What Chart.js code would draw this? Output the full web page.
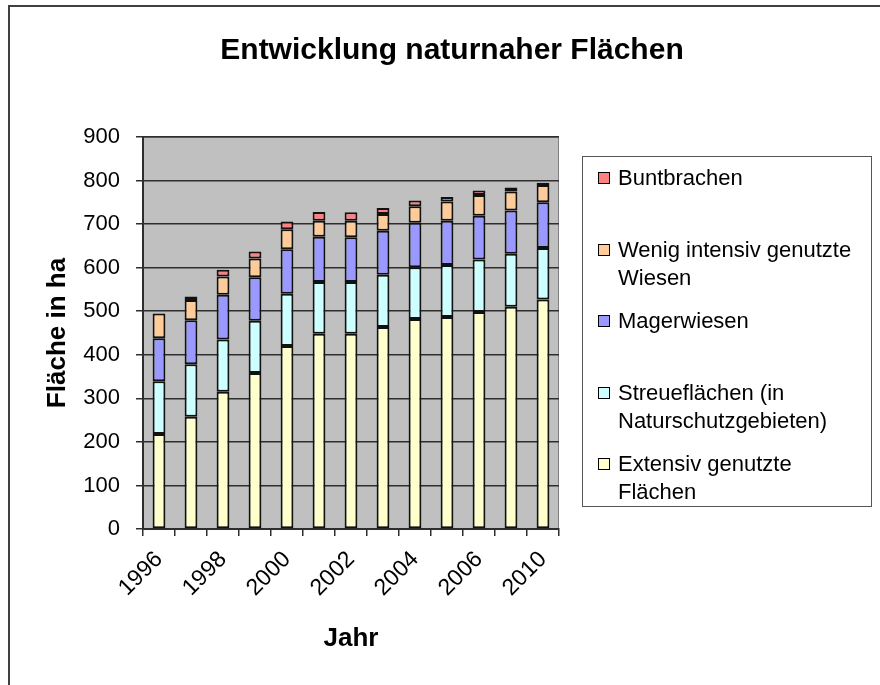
<!DOCTYPE html>
<html lang="de">
<head>
<meta charset="utf-8">
<title>Entwicklung naturnaher Flächen</title>
<script src="https://cdn.jsdelivr.net/npm/chart.js@4/dist/chart.umd.min.js"></script>
<style>
    html, body { margin: 0; padding: 0; background: #fff; overflow: hidden; }
    body { width: 880px; height: 685px; position: relative; font-family: 'Liberation Sans', Arial, sans-serif; }
    #frame {
        position: absolute; left: 8px; top: 5px; width: 900px; height: 700px;
        border-top: 2px solid #404040; border-left: 2px solid #404040;
    }
    #chartWrap { position: absolute; left: 0; top: 0; width: 880px; height: 685px; }
    #legend {
        position: absolute; left: 582px; top: 156px; width: 290px; height: 351px;
        border: 1px solid #555; box-sizing: border-box; padding-top: 7px; overflow: hidden;
    }
    .legend-item { display: flex; align-items: flex-start; height: 71.5px; padding-left: 15px; }
    .legend-box { width: 10px; height: 10px; border: 1px solid #000; margin-top: 8px; margin-right: 8px; flex: none; }
    .legend-text { font-size: 22px; line-height: 28px; color: #000; width: 248px; }
</style>
</head>
<body>
<div id="frame"></div>
<div id="chartWrap"><canvas id="chart" width="880" height="685"></canvas></div>
<div id="legend"></div>

<script>
// ===================================
// DATA (ha)
// ===================================
const years = ['1996', '1997', '1998', '1999', '2000', '2001', '2002', '2003', '2004', '2005', '2006', '2008', '2010'];

const extensiv = [218, 258, 315, 358, 420, 448, 448, 464, 482, 487, 498, 510, 527];
const streue   = [121, 120, 120, 120, 120, 119, 119, 120, 119, 119, 121, 122, 118];
const mager    = [99, 101, 103, 100, 102, 104, 103, 101, 102, 102, 100, 99, 105];
const wenig    = [57, 47, 42, 43, 46, 37, 38, 38, 38, 44, 48, 44, 40];
const bunt     = [0, 8, 15, 16, 18, 20, 19, 14, 13, 10, 10, 9, 5];

const yTicks = [0, 100, 200, 300, 400, 500, 600, 700, 800, 900];

const FONT = "'Liberation Sans', Arial, sans-serif";
const GRID = '#2e2e2e';

Chart.defaults.font.family = FONT;
Chart.defaults.color = '#000';

// grauer Plot-Hintergrund wie in Excel
const plotBg = {
    id: 'plotBg',
    beforeDraw(chart) {
        const { ctx, chartArea: a } = chart;
        ctx.save();
        ctx.fillStyle = '#C0C0C0';
        ctx.fillRect(a.left, a.top, a.right - a.left, a.bottom - a.top);
        ctx.strokeStyle = '#808080';
        ctx.lineWidth = 1;
        ctx.strokeRect(a.left + 0.5, a.top + 0.5, a.right - a.left - 1, a.bottom - a.top - 1);
        ctx.restore();
    }
};

function series(label, data, color) {
    return {
        label: label,
        data: data,
        backgroundColor: color,
        borderColor: '#111',
        borderWidth: 2,
        borderSkipped: false,
        inflateAmount: 0,
        barPercentage: 0.4,
        categoryPercentage: 1.0
    };
}

const chart = new Chart(document.getElementById('chart'), {
    type: 'bar',
    data: {
        labels: years,
        datasets: [
            series('Extensiv genutzte Flächen', extensiv, '#FFFFCC'),
            series('Streueflächen (in Naturschutzgebieten)', streue, '#CCFFFF'),
            series('Magerwiesen', mager, '#9999FF'),
            series('Wenig intensiv genutzte Wiesen', wenig, '#FFCC99'),
            series('Buntbrachen', bunt, '#FF8080')
        ]
    },
    options: {
        responsive: false,
        devicePixelRatio: 1,
        animation: false,
        layout: { padding: { left: 24, right: 0, top: 0, bottom: 0 } },
        plugins: {
            legend: { display: false },
            tooltip: { enabled: false },
            title: {
                display: true,
                text: 'Entwicklung naturnaher Flächen',
                color: '#000',
                font: { size: 30, weight: 'bold', family: FONT },
                padding: { top: 33, bottom: 68 }
            }
        },
        scales: {
            x: {
                stacked: true,
                offset: true,
                grid: { display: true, drawOnChartArea: false, drawTicks: true, tickLength: 7, color: GRID, lineWidth: 1.5, offset: true },
                border: { display: true, color: GRID, width: 2 },
                ticks: {
                    autoSkip: false,
                    minRotation: 45,
                    maxRotation: 45,
                    padding: 10,
                    font: { size: 23 },
                    callback: (v, i) => (i % 2 === 0 ? years[i] : '')
                },
                title: {
                    display: true,
                    text: 'Jahr',
                    font: { size: 26, weight: 'bold' },
                    padding: { top: 0, bottom: 31 }
                },
                afterFit: s => { s.height = 156; }
            },
            y: {
                stacked: true,
                min: 0,
                max: 900,
                afterBuildTicks: s => { s.ticks = yTicks.map(v => ({ value: v })); },
                grid: { color: GRID, lineWidth: 1.5, tickLength: 7, drawTicks: true },
                border: { display: true, color: GRID, width: 2 },
                ticks: { padding: 16, font: { size: 22 } },
                title: {
                    display: true,
                    text: 'Fläche in ha',
                    font: { size: 26, weight: 'bold' },
                    padding: { top: 18, bottom: 0 }
                },
                afterFit: s => { s.width = 119; }
            },
            // leere Achse rechts: hält Platz für die Legende frei
            y2: {
                type: 'linear',
                position: 'right',
                min: 0,
                max: 1,
                grid: { display: false },
                border: { display: false },
                ticks: { display: false },
                afterFit: s => { s.width = 321; }
            }
        }
    },
    plugins: [plotBg]
});

// ===================================
// LEGEND (HTML, wie Excel: oben Buntbrachen)
// ===================================
function buildLegend(ch) {
    const el = document.getElementById('legend');
    el.innerHTML = ch.data.datasets.slice().reverse().map(ds =>
        `<div class="legend-item"><span class="legend-box" style="background:${ds.backgroundColor}"></span><span class="legend-text">${ds.label}</span></div>`
    ).join('');
}
buildLegend(chart);
</script>
</body>
</html>
